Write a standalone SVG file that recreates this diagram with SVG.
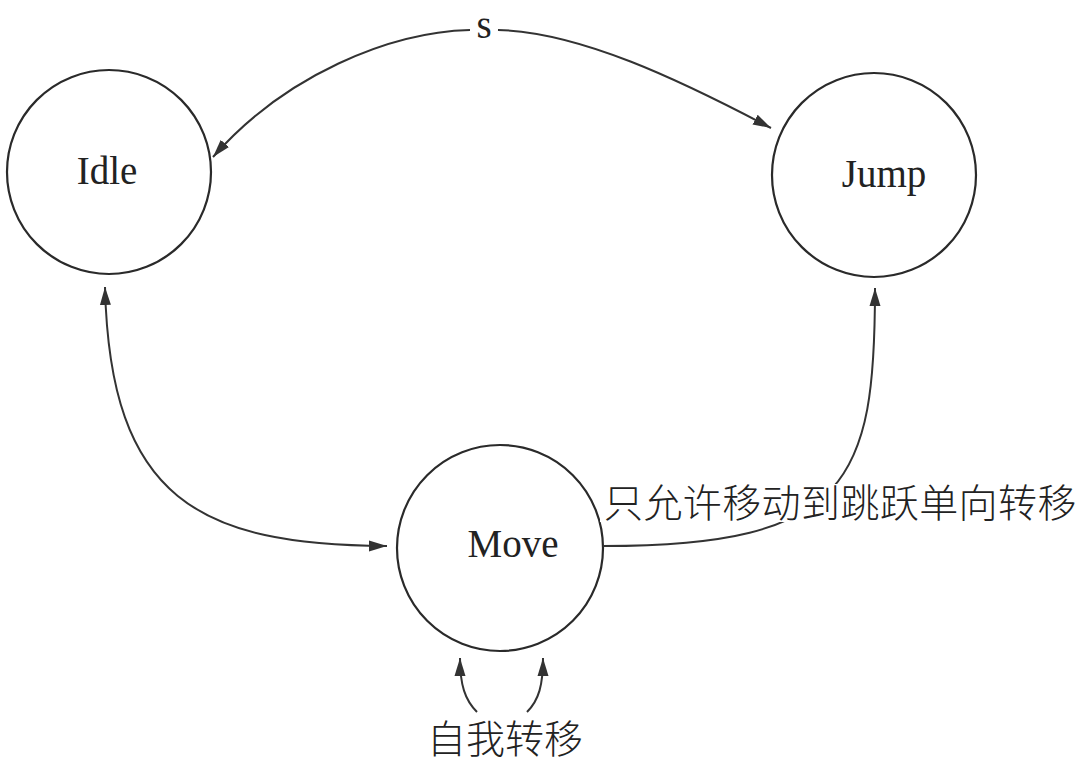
<svg xmlns="http://www.w3.org/2000/svg" width="1092" height="772" viewBox="0 0 1092 772">
<style>
.node{fill:#fff;stroke:#2a2a2a;stroke-width:2.2}
.lbl{font-family:"Liberation Serif","Times New Roman",serif;font-size:39px;fill:#222;text-anchor:middle}
.edge{fill:none;stroke:#333;stroke-width:2}
.cjk{font-family:"Noto Sans CJK SC","Noto Sans",sans-serif;font-size:39px;fill:#222;font-weight:300}
</style>
<defs>
<marker id="arr" markerUnits="userSpaceOnUse" markerWidth="20" markerHeight="12" refX="18" refY="6" orient="auto-start-reverse">
<path d="M0,0.5 L18,6 L0,11.5 Z" fill="#333"/>
</marker>
</defs>
<rect width="1092" height="772" fill="#fff"/>
<g id="node-idle"><circle class="node" cx="109" cy="172" r="102"/><text class="lbl" x="107" y="184">Idle</text></g>
<g id="node-jump"><circle class="node" cx="874" cy="175" r="102"/><text class="lbl" x="884" y="187">Jump</text></g>
<g id="node-move"><circle class="node" cx="500" cy="548" r="103"/><text class="lbl" x="513" y="557">Move</text></g>
<g id="connectors">
<path class="edge" d="M470 30 C390 32 285 75 213 157" marker-end="url(#arr)"/>
<path class="edge" d="M498 30 C580 32 680 80 771 128" marker-end="url(#arr)"/>
<text class="lbl" x="484" y="38">s</text>
<path class="edge" d="M105 287 C110 500 200 545 387 546" marker-start="url(#arr)" marker-end="url(#arr)"/>
<path class="edge" d="M603 546 C850 546 875 480 875 288" marker-end="url(#arr)"/>
<rect x="600" y="484" width="482" height="38" fill="#fff"/>
<text class="cjk" x="604" y="517" letter-spacing="0.4">只允许移动到跳跃单向转移</text>
<path class="edge" d="M477 712 C465 700 460 685 460 658" marker-end="url(#arr)"/>
<path class="edge" d="M527 712 C539 700 543 685 543 658" marker-end="url(#arr)"/>
<text class="cjk" x="427" y="753">自我转移</text>
</g>
</svg>
